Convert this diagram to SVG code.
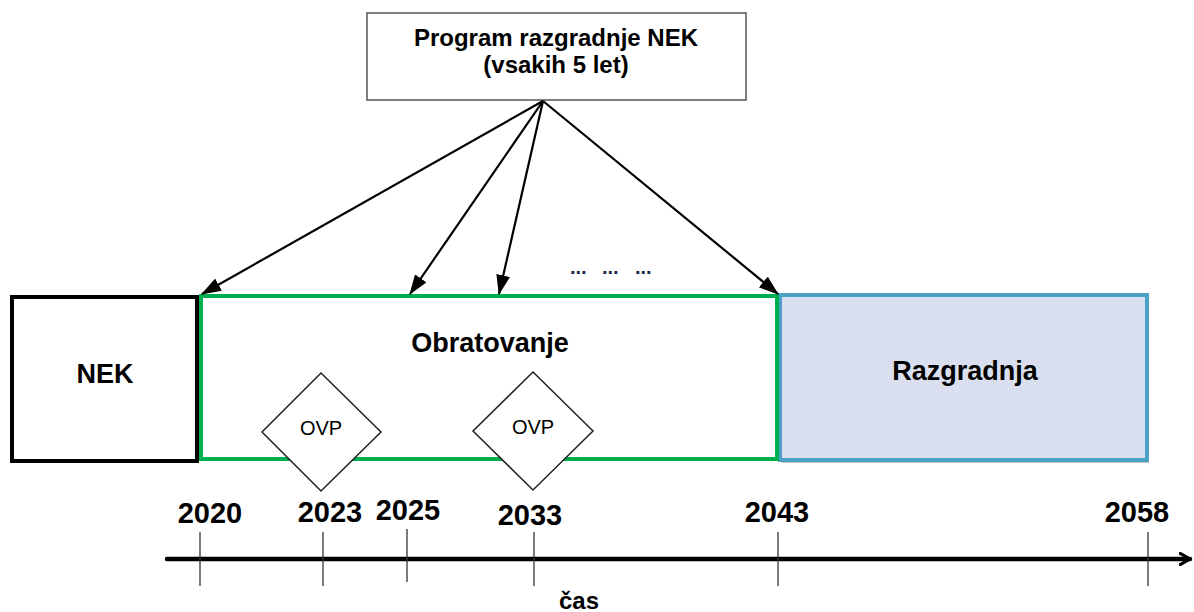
<svg xmlns="http://www.w3.org/2000/svg" width="1194" height="612" viewBox="0 0 1194 612">
<defs>
<marker id="ah2" viewBox="0 0 10 10" refX="8" refY="5" markerWidth="14" markerHeight="14" orient="auto" markerUnits="userSpaceOnUse">
<path d="M1,1 L8,5 L1,9" fill="none" stroke="#000" stroke-width="2.2" stroke-linecap="round" stroke-linejoin="round"/>
</marker>
<marker id="ahb" viewBox="0 0 20 14" refX="19" refY="7" markerWidth="20" markerHeight="14" orient="auto" markerUnits="userSpaceOnUse">
<path d="M0,0 L20,7 L0,14 Z" fill="#000"/>
</marker>
</defs>
<style>
text{font-family:"Liberation Sans",Arial,sans-serif;fill:#000}
.b{font-weight:bold}
.big{font-size:27px;font-weight:bold}
.yr{font-size:29px;font-weight:bold}
.conn line{stroke:#000;stroke-width:2.2}
.tick{stroke:#333;stroke-width:1.3}
.dots{font-size:20px;font-weight:bold;fill:#1a2a4a}
</style>
<rect width="1194" height="612" fill="#fff"/>

<g id="program">
<rect x="367" y="13" width="379" height="87" fill="#fff" stroke="#555" stroke-width="1.5"/>
<text x="556" y="46" text-anchor="middle" class="b" font-size="24">Program razgradnje NEK</text>
<text x="556" y="73" text-anchor="middle" class="b" font-size="24">(vsakih 5 let)</text>
</g>

<g id="nek">
<rect x="14" y="299" width="185" height="164" fill="#aaa" opacity="0.7"/>
<rect x="12" y="297" width="185" height="164" fill="#fff" stroke="#000" stroke-width="4"/>
<text x="105" y="383" text-anchor="middle" class="big">NEK</text>
</g>

<g id="razgradnja">
<rect x="782" y="297" width="367" height="166" fill="#bbb" opacity="0.8"/>
<rect x="780" y="295" width="367" height="165" fill="#D9DFEE" stroke="#4BA2C4" stroke-width="4"/>
<text x="965" y="380" text-anchor="middle" class="big">Razgradnja</text>
</g>

<g id="obratovanje">
<rect x="201" y="296" width="576" height="163" fill="#fff" stroke="#00B050" stroke-width="4"/>
<text x="490" y="352" text-anchor="middle" class="big">Obratovanje</text>
</g>

<g id="ovp1">
<path d="M321,373 L381,432 L321,491 L262,432 Z" fill="#fff" stroke="#222" stroke-width="1.5"/>
<text x="321" y="435" text-anchor="middle" font-size="20">OVP</text>
</g>

<g id="ovp2">
<path d="M533,372 L593,431 L533,490 L473,431 Z" fill="#fff" stroke="#222" stroke-width="1.5"/>
<text x="533" y="434" text-anchor="middle" font-size="20">OVP</text>
</g>

<g id="dots">
<text x="570" y="274" class="dots">...</text>
<text x="602" y="274" class="dots">...</text>
<text x="635" y="274" class="dots">...</text>
</g>

<g id="connectors" class="conn">
<line x1="543" y1="101" x2="202" y2="294" marker-end="url(#ahb)"/>
<line x1="543" y1="101" x2="410" y2="294" marker-end="url(#ahb)"/>
<line x1="543" y1="101" x2="499" y2="294" marker-end="url(#ahb)"/>
<line x1="543" y1="101" x2="778" y2="294" marker-end="url(#ahb)"/>
</g>

<g id="timeline">
<line x1="167" y1="559" x2="1190" y2="559" stroke="#000" stroke-width="4.5" stroke-linecap="round" marker-end="url(#ah2)"/>
<line class="tick" x1="200" y1="532" x2="200" y2="586"/>
<line class="tick" x1="323" y1="532" x2="323" y2="586"/>
<line class="tick" x1="407" y1="529" x2="407" y2="582"/>
<line class="tick" x1="534" y1="532" x2="534" y2="586"/>
<line class="tick" x1="778" y1="532" x2="778" y2="586"/>
<line class="tick" x1="1148" y1="532" x2="1148" y2="586"/>
<text x="210" y="523" text-anchor="middle" class="yr">2020</text>
<text x="330" y="522" text-anchor="middle" class="yr">2023</text>
<text x="408" y="520" text-anchor="middle" class="yr">2025</text>
<text x="530" y="525" text-anchor="middle" class="yr">2033</text>
<text x="777" y="522" text-anchor="middle" class="yr">2043</text>
<text x="1137" y="522" text-anchor="middle" class="yr">2058</text>
<text x="579" y="609" text-anchor="middle" class="b" font-size="24">čas</text>
</g>
</svg>
